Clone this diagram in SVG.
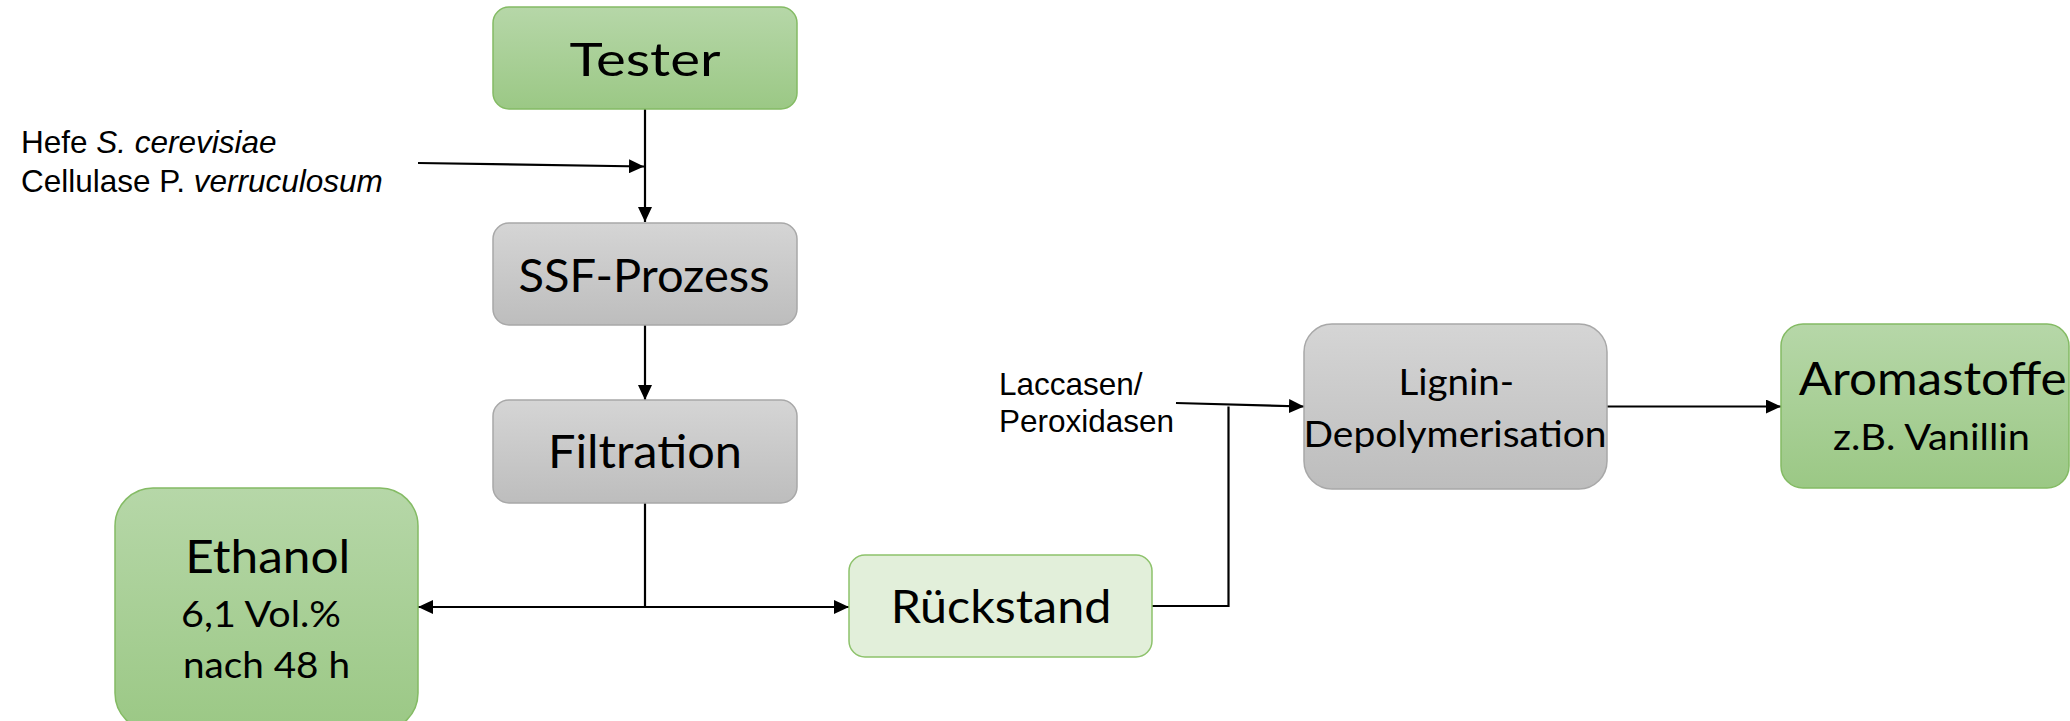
<svg xmlns="http://www.w3.org/2000/svg" width="2070" height="721" viewBox="0 0 2070 721">
  <defs>
    <linearGradient id="gGreen" x1="0" y1="0" x2="0" y2="1">
      <stop offset="0" stop-color="#b6d7a8"/>
      <stop offset="1" stop-color="#9bc885"/>
    </linearGradient>
    <linearGradient id="gGray" x1="0" y1="0" x2="0" y2="1">
      <stop offset="0" stop-color="#d5d5d5"/>
      <stop offset="1" stop-color="#bdbdbd"/>
    </linearGradient>
    <marker id="arrow" viewBox="0 0 15 14" refX="15" refY="7" markerWidth="15" markerHeight="14" markerUnits="userSpaceOnUse" orient="auto">
      <path d="M0,0 L15,7 L0,14 Z" fill="#000"/>
    </marker>
  </defs>
  <style>
    .green { fill: url(#gGreen); stroke: #84bb64; stroke-width: 1.5; }
    .gray { fill: url(#gGray); stroke: #a8a8a8; stroke-width: 1.5; }
    .light { fill: #e2efda; stroke: #8dc26b; stroke-width: 1.5; }
    .big { font-family: Lato, "Open Sans", sans-serif; font-size: 46px; fill: #000; }
    .mid { font-family: Lato, "Open Sans", sans-serif; font-size: 37px; fill: #000; }
    .note { font-family: "Liberation Sans", Arial, sans-serif; font-size: 31.5px; fill: #000; }
    .conn { fill: none; stroke: #000; stroke-width: 2.2; }
  </style>

  <rect width="2070" height="721" fill="#fff"/>

  <!-- connectors -->
  <g id="connectors">
    <path class="conn" d="M645,109 V222" marker-end="url(#arrow)"/>
    <path class="conn" d="M418,163 L644,166.5" marker-end="url(#arrow)"/>
    <path class="conn" d="M645,325 V400" marker-end="url(#arrow)"/>
    <path class="conn" d="M645,503 V607 H418" marker-end="url(#arrow)"/>
    <path class="conn" d="M645,607 H849" marker-end="url(#arrow)"/>
    <path class="conn" d="M1152,606 H1228.5 V406.5"/>
    <path class="conn" d="M1176,403 L1304,406.5" marker-end="url(#arrow)"/>
    <path class="conn" d="M1607,406.5 H1781" marker-end="url(#arrow)"/>
  </g>

  <!-- input notes -->
  <g id="note-hefe">
    <text class="note" x="21" y="153">Hefe <tspan font-style="italic">S. cerevisiae</tspan></text>
    <text class="note" x="21" y="192">Cellulase P. <tspan font-style="italic">verruculosum</tspan></text>
  </g>
  <g id="note-laccasen">
    <text class="note" x="999" y="395">Laccasen/</text>
    <text class="note" x="999" y="432">Peroxidasen</text>
  </g>

  <!-- process nodes -->
  <g id="node-tester">
    <rect class="green" x="493" y="7" width="304" height="102" rx="16"/>
    <text class="big" x="569.5" y="76" textLength="151" lengthAdjust="spacingAndGlyphs">Tester</text>
  </g>
  <g id="node-ssf">
    <rect class="gray" x="493" y="223" width="304" height="102" rx="16"/>
    <text class="big" x="518.5" y="291.7" textLength="251" lengthAdjust="spacingAndGlyphs">SSF-Prozess</text>
  </g>
  <g id="node-filtration">
    <rect class="gray" x="493" y="400" width="304" height="103" rx="16"/>
    <text class="big" x="548" y="468" textLength="194" lengthAdjust="spacingAndGlyphs">Filtration</text>
  </g>
  <g id="node-ethanol">
    <rect class="green" x="115" y="488" width="303" height="243" rx="38"/>
    <text class="big" x="185.3" y="573.3" textLength="165" lengthAdjust="spacingAndGlyphs">Ethanol</text>
    <text class="mid" x="181" y="626.7" textLength="160" lengthAdjust="spacingAndGlyphs">6,1 Vol.%</text>
    <text class="mid" x="183" y="678.3" textLength="167" lengthAdjust="spacingAndGlyphs">nach 48 h</text>
  </g>
  <g id="node-rueckstand">
    <rect class="light" x="849" y="555" width="303" height="102" rx="16"/>
    <text class="big" x="890.7" y="623.3" textLength="220.6" lengthAdjust="spacingAndGlyphs">Rückstand</text>
  </g>
  <g id="node-lignin">
    <rect class="gray" x="1304" y="324" width="303" height="165" rx="28"/>
    <text class="mid" x="1398.5" y="395" textLength="115.7" lengthAdjust="spacingAndGlyphs">Lignin-</text>
    <text class="mid" x="1303.5" y="446.7" textLength="303" lengthAdjust="spacingAndGlyphs">Depolymerisation</text>
  </g>
  <g id="node-aromastoffe">
    <rect class="green" x="1781" y="324" width="288" height="164" rx="22"/>
    <text class="big" x="1798.7" y="395" textLength="268" lengthAdjust="spacingAndGlyphs">Aromastoffe</text>
    <text class="mid" x="1833" y="450" textLength="197" lengthAdjust="spacingAndGlyphs">z.B. Vanillin</text>
  </g>
</svg>
